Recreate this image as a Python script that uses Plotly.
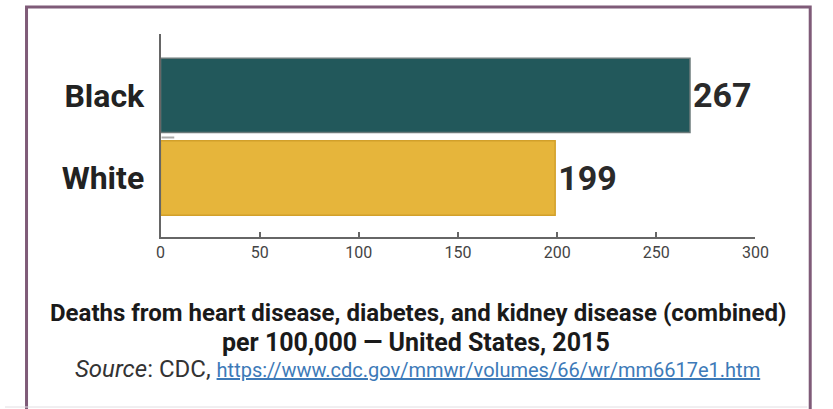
import plotly.graph_objects as go

categories = ["White", "Black"]
values = [199, 267]
bar_colors = ["#e6b53b", "#22585b"]
bar_outline = ["#d2a02a", "#6b7a7a"]
x_ticks = [0, 50, 100, 150, 200, 250, 300]

W, H = 833, 409

def px(x):
    return x / W

def py(y):
    return 1 - y / H

fig = go.Figure()
fig.add_trace(go.Bar(
    y=categories, x=values, orientation="h",
    marker=dict(color=bar_colors, line=dict(color=bar_outline, width=1.5)),
    width=0.9,
    text=[str(v) for v in values], textposition="outside",
    textfont=dict(family="Roboto", size=34, color="#2a2a2a", weight="bold"),
    cliponaxis=False,
))

fig.update_layout(
    width=W, height=H,
    margin=dict(l=0, r=0, t=0, b=0),
    paper_bgcolor="white", plot_bgcolor="white",
    showlegend=False,
    xaxis=dict(
        domain=[px(159), px(767)], range=[0, 300],
        tickvals=x_ticks, ticktext=[str(t) for t in x_ticks],
        ticks="inside", ticklen=5, tickwidth=2, tickcolor="#666",
        showline=True, linecolor="#666", linewidth=2,
        showgrid=False, zeroline=False,
        tickfont=dict(family="Roboto", size=16, color="#444"),
        anchor="y",
    ),
    yaxis=dict(
        domain=[py(237), py(34)], range=[-0.715, 1.745],
        type="category",
        showline=True, linecolor="#666", linewidth=2,
        showgrid=False, zeroline=False, ticks="",
        tickfont=dict(family="Roboto", size=32, color="#222", weight="bold"),
        ticklabelstandoff=8,
    ),
)

fig.add_annotation(
    x=px(422), y=py(313), xref="paper", yref="paper",
    text="<b>Deaths from heart disease, diabetes, and kidney disease (combined)</b>",
    showarrow=False, font=dict(family="Roboto", size=24, color="#1a1a1a"),
    xanchor="center", yanchor="middle",
)
fig.add_annotation(
    x=px(420), y=py(342), xref="paper", yref="paper",
    text="<b>per 100,000 — United States, 2015</b>",
    showarrow=False, font=dict(family="Roboto", size=25, color="#1a1a1a"),
    xanchor="center", yanchor="middle",
)
fig.add_annotation(
    x=px(422), y=py(369), xref="paper", yref="paper",
    text="<i>Source</i>: CDC, <span style='font-size:20px;color:#3d7ab8'><u>https://www.cdc.gov/mmwr/volumes/66/wr/mm6617e1.htm</u></span>",
    showarrow=False, font=dict(family="Roboto", size=24, color="#333"),
    xanchor="center", yanchor="middle",
)

# frame
fig.add_shape(type="rect", xref="paper", yref="paper",
              x0=px(22), x1=px(823), y0=-0.05, y1=py(7),
              line=dict(color="#7f5b78", width=3), layer="above")
fig.add_shape(type="line", xref="paper", yref="paper",
              x0=px(0), x1=px(820), y0=py(407), y1=py(407),
              line=dict(color="#e2dee2", width=1))
# small artifact dash between bars
fig.add_shape(type="line", xref="paper", yref="paper",
              x0=px(160), x1=px(173), y0=py(137.5), y1=py(137.5),
              line=dict(color="#aaa", width=2))

fig.write_html("out.html")
